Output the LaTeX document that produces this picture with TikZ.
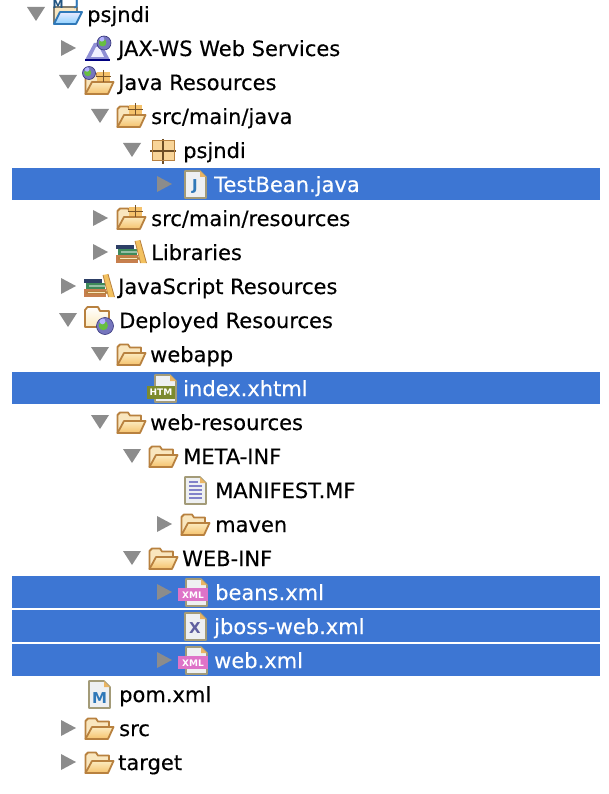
\documentclass[tikz,border=0pt]{standalone}
\usepackage{fontspec}
\setmainfont{DejaVu Sans}
\newfontfamily\rowfont{DejaVu Sans}[FakeBold=0.3]
\definecolor{selblue}{HTML}{3D76D3}
\definecolor{trigray}{HTML}{8C8C8C}
\definecolor{foldline}{HTML}{B8813F}
\definecolor{foldback}{HTML}{F9E6BE}
\definecolor{foldtop}{HTML}{FCEBC0}
\definecolor{foldbot}{HTML}{F5C26C}
\definecolor{pageline}{HTML}{A39B78}
\definecolor{pagefill}{HTML}{EEF0F2}
\definecolor{xmlpink}{HTML}{DE73C8}
\definecolor{htmgreen}{HTML}{7C8A2E}
\definecolor{mblue}{HTML}{2F78B8}
\definecolor{booktan}{HTML}{C77F4E}
\definecolor{bookgreen}{HTML}{3E8A5A}
\definecolor{bookdark}{HTML}{2D3F66}
\definecolor{bookyellow}{HTML}{F3C15F}
\tikzset{
  rowlabel/.style={anchor=base west,inner sep=0pt,font=\rowfont\fontsize{21}{24}\selectfont,text=black},
  sellabel/.style={rowlabel,text=white},
  selbar/.style={fill=selblue,draw=none},
  tridown/.style={fill=trigray,draw=none},
  foldback/.style={fill=foldback,draw=foldline,line width=1.8pt,line join=round},
  foldfront/.style={top color=foldtop,bottom color=foldbot,draw=foldline,line width=1.8pt,line join=round},
  pagebody/.style={fill=pagefill,draw=pageline,line width=1.6pt,line join=round},
  icontext/.style={inner sep=0pt,font=\bfseries\fontsize{9}{9}\selectfont,text=white},
}
\newcommand{\triD}[2]{\fill[tridown] (#1-9,#2-7) -- (#1+9,#2-7) -- (#1,#2+7) -- cycle;}
\newcommand{\triR}[2]{\fill[tridown] (#1,#2-8) -- (#1+15,#2) -- (#1,#2+8) -- cycle;}
\newcommand{\folderIcon}[2]{\begin{scope}[shift={(#1,#2)}]
  \draw[foldback] (1.5,11) -- (1.5,-7) -- (4,-9.5) -- (12,-9.5) -- (14,-6.5) -- (25,-6.5) -- (25,0) -- (10,0) -- cycle;
  \draw[foldfront] (8,-1) -- (29.5,-1) -- (24,11) -- (1.5,11) -- cycle;
\end{scope}}
\newcommand{\crossIcon}[2]{\begin{scope}[shift={(#1,#2)}]
  \fill[foldbot] (13,-11) rectangle (26,-2);
  \draw[foldline!65!black,line width=1.5pt] (19.5,-13) -- (19.5,-1) (12,-6.5) -- (27,-6.5);
\end{scope}}
\newcommand{\booksIcon}[2]{\begin{scope}[shift={(#1,#2)}]
  \fill[booktan] (0,3) rectangle (22,11);
  \fill[foldback] (3,5.5) rectangle (22,7.5);
  \fill[bookgreen] (2,-3) rectangle (21,3);
  \fill[bookgreen!55!white] (5,-1) rectangle (21,1);
  \fill[bookdark] (0,-7) rectangle (18,-3);
  \fill[bookyellow] (19,-11) -- (24,-12) -- (30.5,11) -- (24.5,11) -- cycle;
  \draw[line width=0.8pt,color=foldline] (19,-11) -- (24.5,11) (24,-12) -- (30.5,11);
\end{scope}}
\newcommand{\globeIcon}[3]{
  \fill[blue!35!gray!80!white] (#1,#2) circle (#3);
  \fill[green!40!gray!85!yellow] (#1-#3*0.2,#2-#3*0.05) circle (#3*0.55);
  \fill[white!70!blue] (#1-#3*0.3,#2-#3*0.55) circle (#3*0.35);
  \draw[blue!40!gray!70!black,line width=0.6pt] (#1,#2) circle (#3);
}
\newcommand{\pageIcon}[2]{\begin{scope}[shift={(#1,#2)}]
  \draw[pagebody] (0,-13) -- (15,-13) -- (21,-7) -- (21,14) -- (0,14) -- cycle;
  \fill[foldbot!80!brown] (15,-13) -- (21,-7) -- (15,-7) -- cycle;
\end{scope}}
\newcommand{\xmlIcon}[3]{\pageIcon{#1+8}{#2}
  \fill[xmlpink] (#1,#2-4) rectangle (#1+30,#2+9);
  \node[icontext] (#3) at (#1+15,#2+3) {XML};}

\begin{document}
\begin{tikzpicture}[x=1pt,y=-1pt]
\useasboundingbox (0,0) rectangle (608,794);
\fill[white] (0,0) rectangle (608,794);

\fill[selbar] (12,168) rectangle (600,200);
\fill[selbar] (12,372) rectangle (600,404);
\fill[selbar] (12,576) rectangle (600,608);
\fill[selbar] (12,610) rectangle (600,642);
\fill[selbar] (12,644) rectangle (600,676);

\triD{36}{14}
\triR{61}{48}
\triD{68}{82}
\triD{100}{116}
\triD{132}{150}
\triR{157}{184}
\triR{93}{218}
\triR{93}{252}
\triR{61}{286}
\triD{68}{320}
\triD{100}{354}
\triD{100}{422}
\triD{132}{456}
\triR{157}{524}
\triD{132}{558}
\triR{157}{592}
\triR{157}{660}
\triR{61}{728}
\triR{61}{762}

% project icon
\begin{scope}[shift={(52,14)}]
  \draw[foldback,draw=foldline!60!mblue] (2,9) -- (2,-7) -- (25,-7) -- (25,-1) -- (10,-1) -- cycle;
  \draw[line width=1.8pt,draw=mblue,line join=round,top color=blue!8!white,bottom color=blue!40!cyan!45!white] (8,-2) -- (30,-2) -- (24,10) -- (2,10) -- cycle;
  \node[icontext,text=mblue!70!black,font=\bfseries\fontsize{11}{11}\selectfont] (projM) at (6,-10) {M};
  \node[icontext,text=mblue,font=\bfseries\fontsize{11}{11}\selectfont] (projJ) at (25,-10) {J};
\end{scope}

% JAX-WS icon
\fill[blue!45!gray!60!white] (85,60) -- (94,43) -- (101,43) -- (110,60) -- cycle;
\fill[blue!6!white] (91,57) -- (96,47) -- (99,47) -- (104,57) -- cycle;
\draw[blue!50!black,line width=1.2pt] (85,60) -- (110,60);
\globeIcon{104}{43}{7}

% Java Resources icon
\folderIcon{84}{83}
\crossIcon{84}{83}
\globeIcon{89}{73}{6.5}

% src/main/java
\folderIcon{116}{116}
\crossIcon{116}{116}

% package
\fill[foldbot!70!white] (152,141) rectangle (174,161);
\draw[foldline!60!black,line width=1.6pt] (163,139) -- (163,164) (150,151) -- (176,151);
\draw[foldline,line width=1pt] (152,141) rectangle (174,161);

% TestBean.java icon
\pageIcon{185}{184}
\node[icontext,text=mblue,font=\bfseries\fontsize{15}{15}\selectfont] (jmark) at (195,187) {J};

% src/main/resources, Libraries, JavaScript
\folderIcon{116}{218}
\crossIcon{116}{218}
\booksIcon{116}{252}
\booksIcon{84}{286}

% Deployed Resources
\draw[foldback,top color=white,bottom color=foldtop] (85,327) -- (85,310) -- (87.5,307) -- (98,307) -- (100,311) -- (109,311) -- (109,327) -- cycle;
\globeIcon{105}{326}{8.5}

% folders
\folderIcon{116}{354}
\folderIcon{116}{422}
\folderIcon{148}{456}
\folderIcon{180}{524}
\folderIcon{148}{558}
\folderIcon{84}{728}
\folderIcon{84}{762}

% index.xhtml icon
\pageIcon{155}{388}
\fill[htmgreen] (147,386) rectangle (175,399);
\node[icontext] (htmmark) at (161,392.5) {HTM};

% MANIFEST.MF icon
\pageIcon{185}{490}
\foreach \ly in {-4,0,4,8} \draw[blue!40!gray!70!white,line width=1.2pt] (189,490+\ly) -- (202,490+\ly);
\draw[blue!40!gray!70!white,line width=1.2pt] (189,482) -- (198,482);

% xml icons
\xmlIcon{178}{592}{beansmark}
\xmlIcon{178}{660}{webmark}

% jboss-web.xml icon
\pageIcon{185}{626}
\node[icontext,text=blue!25!gray,font=\bfseries\fontsize{15}{15}\selectfont] (xmark) at (195,628) {X};

% pom.xml icon
\pageIcon{89}{694}
\node[icontext,text=mblue,font=\bfseries\fontsize{15}{15}\selectfont] (mmark) at (99.5,698) {M};

% labels
\node[rowlabel] (n01) at (87,22) {psjndi};
\node[rowlabel] (n02) at (118,56) {JAX-WS Web Services};
\node[rowlabel] (n03) at (118,90) {Java Resources};
\node[rowlabel] (n04) at (151,124) {src/main/java};
\node[rowlabel] (n05) at (183,158) {psjndi};
\node[sellabel] (n06) at (214,192) {TestBean.java};
\node[rowlabel] (n07) at (151,226) {src/main/resources};
\node[rowlabel] (n08) at (151,260) {Libraries};
\node[rowlabel] (n09) at (118,294) {JavaScript Resources};
\node[rowlabel] (n10) at (119,328) {Deployed Resources};
\node[rowlabel] (n11) at (150,362) {webapp};
\node[sellabel] (n12) at (183,396) {index.xhtml};
\node[rowlabel] (n13) at (150,430) {web-resources};
\node[rowlabel] (n14) at (183,464) {META-INF};
\node[rowlabel] (n15) at (215,498) {MANIFEST.MF};
\node[rowlabel] (n16) at (215,532) {maven};
\node[rowlabel] (n17) at (182,566) {WEB-INF};
\node[sellabel] (n18) at (215,600) {beans.xml};
\node[sellabel] (n19) at (214,634) {jboss-web.xml};
\node[sellabel] (n20) at (214,668) {web.xml};
\node[rowlabel] (n21) at (119,702) {pom.xml};
\node[rowlabel] (n22) at (119,736) {src};
\node[rowlabel] (n23) at (118,770) {target};
\end{tikzpicture}
\end{document}
